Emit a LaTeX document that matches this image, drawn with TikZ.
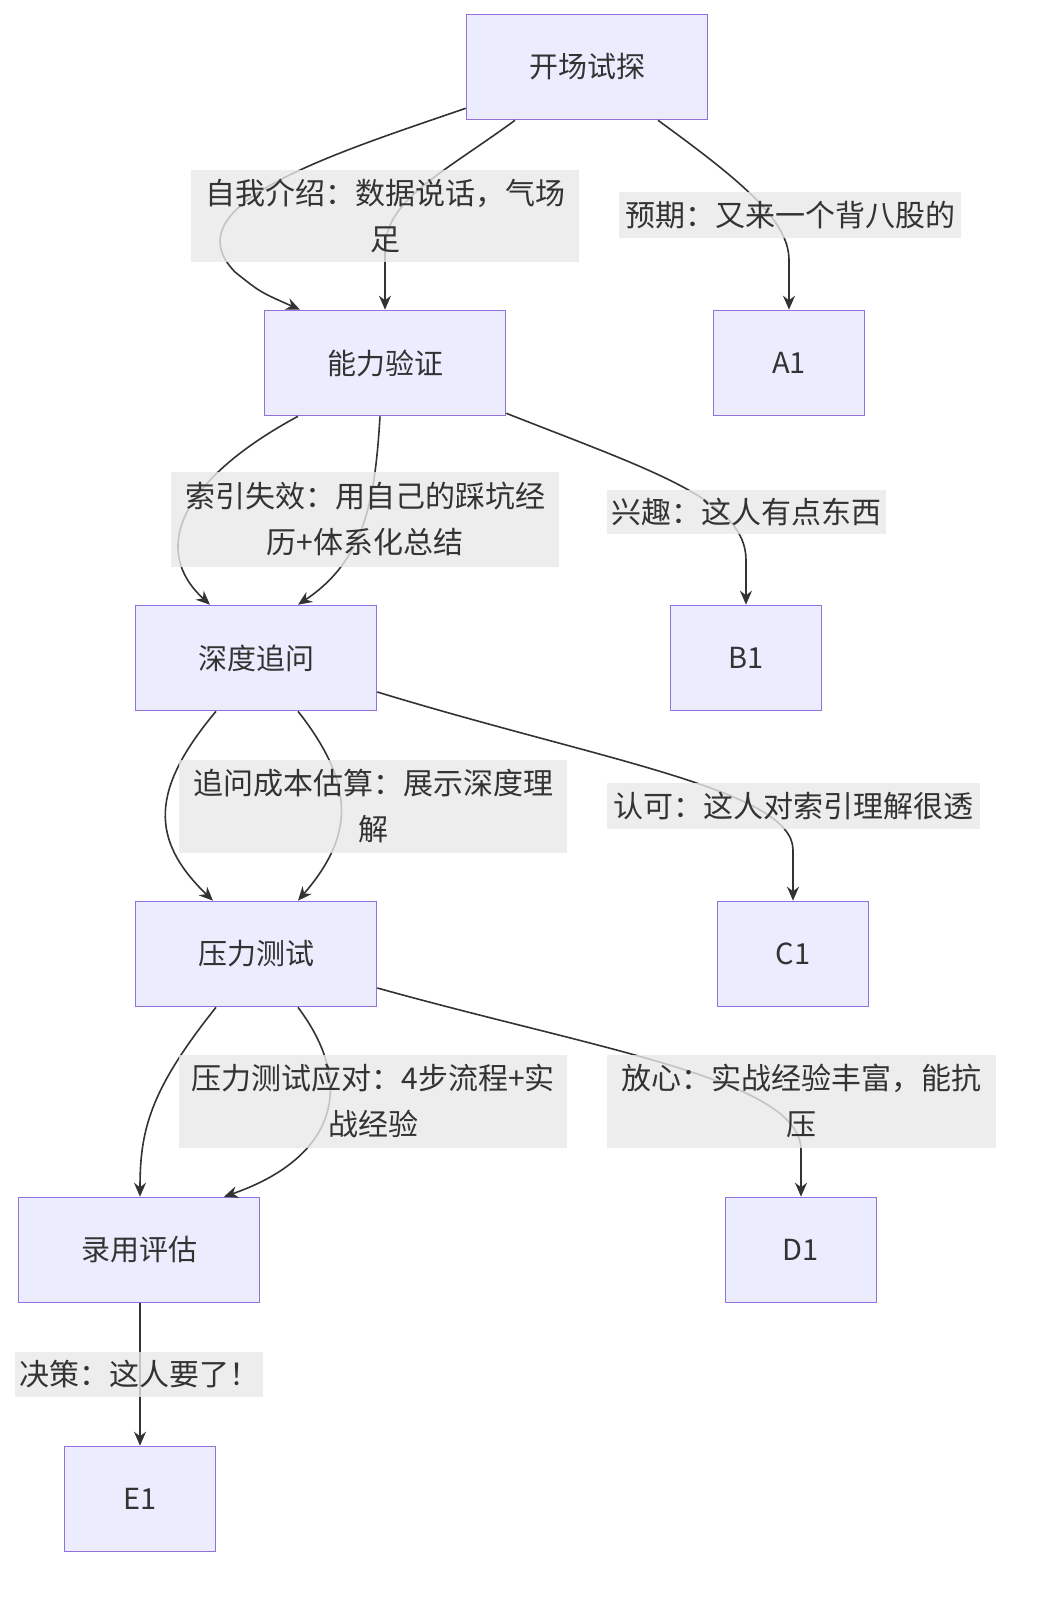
\documentclass[tikz,border=0pt]{standalone}
\usepackage{fontspec}
\setmainfont{Noto Sans CJK SC}
\usetikzlibrary{calc,arrows.meta}
\definecolor{nfill}{HTML}{ECECFF}
\definecolor{nline}{HTML}{9370DB}
\definecolor{eline}{HTML}{333333}
\definecolor{lbg}{HTML}{E8E8E8}
\begin{document}
\begin{tikzpicture}[x=0.5pt,y=-0.5pt,
 box/.style={draw=nline,fill=nfill,line width=0.8pt,minimum width=120.5pt,minimum height=52.5pt,inner sep=0pt,font=\fontsize{14.5pt}{18pt}\selectfont,text=eline},
 sbox/.style={box,minimum width=75.5pt},
 lab/.style={fill=lbg,fill opacity=0.8,text opacity=1,inner sep=0pt,align=center,font=\fontsize{15pt}{23pt}\selectfont,text=eline},
 edge/.style={draw=eline,line width=0.8pt,-{Stealth[length=7pt,width=6pt]}}]
\useasboundingbox (0,0) rectangle (1040,1612);
\node[box] (s) at (587,67) {开场试探};
\node[box] (b) at (385,363) {能力验证};
\node[sbox] (a1) at (789,363) {A1};
\node[box] (d) at (256,658) {深度追问};
\node[sbox] (b1) at (746,658) {B1};
\node[box] (p) at (256,954) {压力测试};
\node[sbox] (c1) at (793,954) {C1};
\node[box] (h) at (139,1250) {录用评估};
\node[sbox] (d1) at (801,1250) {D1};
\node[sbox] (e1) at (140,1499) {E1};
% edges
\draw[edge] ($(s.south west)+(0,-12)$) .. controls (330,155) and (170,205) .. (235,272) .. controls (260,292) .. ($(b.north)+(-85,0)$);
\draw[edge] ($(s.south)+(-72,0)$) .. controls (440,175) and (385,200) .. (385,250) -- (b.north);
\draw[edge] ($(s.south)+(71,0)$) .. controls (740,180) and (789,220) .. (789,260) -- (a1.north);
\draw[edge] ($(b.south)+(-87,0)$) .. controls (180,480) and (150,550) .. ($(d.north)+(-46,0)$);
\draw[edge] ($(b.south)+(-5,0)$) .. controls (375,500) and (365,560) .. ($(d.north)+(42,0)$);
\draw[edge] ($(b.south east)+(0,-3)$) .. controls (650,470) and (746,500) .. (746,560) -- (b1.north);
\draw[edge] ($(d.south)+(-40,0)$) .. controls (150,790) and (150,840) .. ($(p.north)+(-43,0)$);
\draw[edge] ($(d.south)+(42,0)$) .. controls (360,790) and (350,840) .. ($(p.north)+(42,0)$);
\draw[edge] ($(d.east)+(0,34)$) .. controls (600,760) and (793,790) .. (793,850) -- (c1.north);
\draw[edge] ($(p.south)+(-40,0)$) .. controls (150,1090) and (140,1130) .. ($(h.north)+(1,0)$);
\draw[edge] ($(p.south)+(42,0)$) .. controls (360,1090) and (330,1160) .. ($(h.north)+(85,0)$);
\draw[edge] ($(p.east)+(0,34)$) .. controls (600,1050) and (801,1080) .. (801,1150) -- (d1.north);
\draw[edge] ($(h.south)+(1,0)$) -- (e1.north);
% labels
\node[lab,minimum width=194pt,minimum height=46pt,text width=190pt] (l1) at (385,216) {自我介绍：数据说话，气场\\足};
\node[lab,minimum width=171pt,minimum height=23pt] (l2) at (790,215) {预期：又来一个背八股的};
\node[lab,minimum width=194pt,minimum height=47.5pt,text width=190pt] (l3) at (365,519) {索引失效：用自己的踩坑经\\历+体系化总结};
\node[lab,minimum width=139.5pt,minimum height=22pt] (l4) at (746,512) {兴趣：这人有点东西};
\node[lab,minimum width=194pt,minimum height=46.5pt,text width=190pt] (l5) at (373,806) {追问成本估算：展示深度理\\解};
\node[lab,minimum width=186.5pt,minimum height=23pt] (l6) at (793,806) {认可：这人对索引理解很透};
\node[lab,minimum width=194pt,minimum height=46.5pt,text width=190pt] (l7) at (373,1101) {压力测试应对：4步流程+实\\战经验};
\node[lab,minimum width=194.5pt,minimum height=46.5pt,text width=190pt] (l8) at (801,1101) {放心：实战经验丰富，能抗\\压};
\node[lab,minimum width=124pt,minimum height=22.5pt] (l9) at (139,1374) {决策：这人要了！};
\end{tikzpicture}
\end{document}
